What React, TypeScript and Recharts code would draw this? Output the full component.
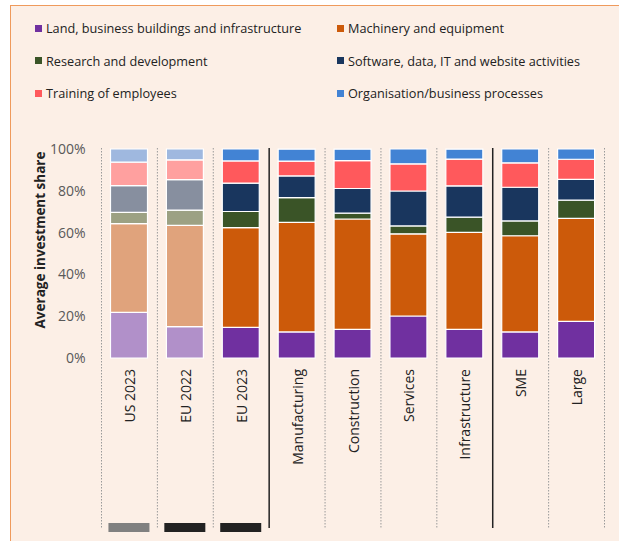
import { Bar, BarChart, Cell, XAxis, YAxis } from "recharts";

const categories = [
  "US 2023",
  "EU 2022",
  "EU 2023",
  "Manufacturing",
  "Construction",
  "Services",
  "Infrastructure",
  "SME",
  "Large",
];
const land = [21.8, 15.0, 14.7, 12.5, 13.7, 20.1, 13.7, 12.5, 17.5];
const machinery = [42.5, 48.5, 47.7, 52.4, 52.8, 39.3, 46.4, 46.0, 49.3];
const research = [5.4, 7.3, 7.7, 11.8, 2.8, 3.8, 7.3, 7.1, 8.7];
const software = [12.8, 14.5, 13.6, 10.4, 11.8, 16.7, 15.0, 16.1, 10.0];
const training = [11.2, 9.5, 10.6, 7.1, 13.3, 13.0, 12.8, 11.7, 9.6];
const organisation = [6.3, 5.2, 5.7, 5.7, 5.5, 7.1, 4.7, 6.6, 4.9];
const yTicks = [0, 20, 40, 60, 80, 100];
const fadedCategories = ["US 2023", "EU 2022"];
const groupStarts = ["Manufacturing", "SME"];
const markerColors = ["#808080", "#222222", "#222222"];

const series = [
  { key: "land", name: "Land, business buildings and infrastructure", values: land, color: "#7030a0", faded: "#b190c9" },
  { key: "machinery", name: "Machinery and equipment", values: machinery, color: "#cc5a0a", faded: "#e0a37c" },
  { key: "research", name: "Research and development", values: research, color: "#3a5427", faded: "#9ca183" },
  { key: "software", name: "Software, data, IT and website activities", values: software, color: "#19365e", faded: "#878f9f" },
  { key: "training", name: "Training of employees", values: training, color: "#ff595c", faded: "#ffa09f" },
  { key: "organisation", name: "Organisation/business processes", values: organisation, color: "#4283d4", faded: "#9fb8df" },
];

const rows = categories.map((c, i) => {
  const row: Record<string, string | number> = { cat: c };
  series.forEach((s) => (row[s.key] = s.values[i]));
  return row;
});

const W = 619;
const H = 541;
const PLOT_LEFT = 101.5;
const PLOT_RIGHT = 604.5;
const PLOT_TOP = 149;
const PLOT_BOTTOM = 358;
const BAND = (PLOT_RIGHT - PLOT_LEFT) / categories.length;
const FONT = "'Open Sans', sans-serif";

function CatTick(props: any) {
  const { x, payload, index } = props;
  const left = x - BAND / 2;
  const solid = groupStarts.includes(payload.value);
  return (
    <g>
      <line
        x1={left}
        x2={left}
        y1={PLOT_TOP - 1}
        y2={528}
        stroke={solid ? "#222" : "#9a9a9a"}
        strokeWidth={solid ? 1.5 : 1}
        strokeDasharray={solid ? undefined : "1.5 1.5"}
      />
      {index === categories.length - 1 && (
        <line x1={x + BAND / 2} x2={x + BAND / 2} y1={PLOT_TOP - 1} y2={528} stroke="#9a9a9a" strokeDasharray="1.5 1.5" />
      )}
      {index < markerColors.length && (
        <rect x={x - 21} y={523} width={41} height={9} fill={markerColors[index]} />
      )}
      <text
        x={x}
        y={369}
        transform={`rotate(-90, ${x}, 369)`}
        textAnchor="end"
        dominantBaseline="central"
        fontSize={14}
        fontFamily={FONT}
        fill="#222"
      >
        {payload.value}
      </text>
    </g>
  );
}

export default function App() {
  return (
    <div style={{ position: "absolute", left: 0, top: 0, width: W, height: H, background: "#fff", overflow: "hidden" }}>
      <div
        style={{
          position: "absolute",
          left: 10,
          top: 5,
          right: 0,
          bottom: 0,
          background: "#fcefe6",
          borderLeft: "1.5px solid #ef9a5c",
          borderTop: "1.5px solid #ef9a5c",
        }}
      />
      <div style={{ position: "absolute", left: 0, top: 0, fontFamily: FONT, fontSize: 12.7, color: "#222" }}>
        {series.map((s, i) => {
          const col = i % 2;
          const row = Math.floor(i / 2);
          return (
            <div
              key={s.key}
              style={{
                position: "absolute",
                left: col === 0 ? 35 : 337,
                top: 28 + row * 32.7 - 9,
                height: 18,
                display: "flex",
                alignItems: "center",
                whiteSpace: "nowrap",
              }}
            >
              <span style={{ width: 7, height: 7, background: s.color, marginRight: 4, display: "inline-block" }} />
              {s.name}
            </div>
          );
        })}
      </div>
      <div style={{ position: "absolute", left: 0, top: 0 }}>
        <BarChart
          width={W}
          height={H}
          data={rows}
          barSize={37}
          margin={{ top: PLOT_TOP, right: W - PLOT_RIGHT, left: 0, bottom: H - PLOT_BOTTOM - 170 }}
        >
          <XAxis
            dataKey="cat"
            height={170}
            axisLine={false}
            tickLine={false}
            tickSize={0}
            tickMargin={0}
            interval={0}
            tick={<CatTick />}
          />
          <YAxis
            width={PLOT_LEFT}
            domain={[0, 100]}
            ticks={yTicks}
            tickFormatter={(v) => `${v}%`}
            axisLine={false}
            tickLine={false}
            tickSize={0}
            tickMargin={16}
            tick={{ fontSize: 14, fontFamily: FONT, fill: "#595959" }}
          />
          {series.map((s) => (
            <Bar key={s.key} dataKey={s.key} name={s.name} stackId="a" stroke="#fff" strokeWidth={1.2} isAnimationActive={false}>
              {categories.map((c) => (
                <Cell key={c} fill={fadedCategories.includes(c) ? s.faded : s.color} />
              ))}
            </Bar>
          ))}
        </BarChart>
      </div>
      <svg width={W} height={H} style={{ position: "absolute", left: 0, top: 0, pointerEvents: "none" }}>
        <text
          x={39.5}
          y={240}
          transform="rotate(-90, 39.5, 240)"
          textAnchor="middle"
          dominantBaseline="central"
          fontSize={13.5}
          fontWeight="bold"
          fontFamily={FONT}
          fill="#222"
        >
          Average investment share
        </text>
      </svg>
    </div>
  );
}
